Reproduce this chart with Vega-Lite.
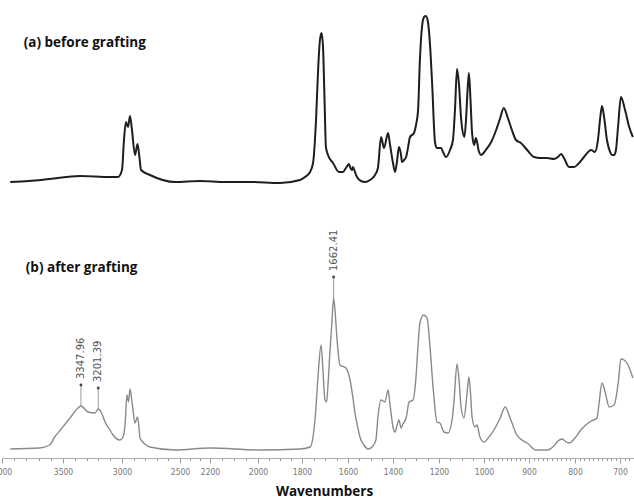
{
  "$schema": "https://vega.github.io/schema/vega-lite/v6.json",
  "width": 634,
  "height": 458,
  "autosize": {"type": "none"},
  "padding": {"left": 0, "top": 0, "right": 0, "bottom": 40},
  "background": "white",
  "config": {
    "view": {"stroke": null},
    "axisX": {
      "titleFont": "Open Sans",
      "titleFontSize": 13.5,
      "titleFontWeight": "bold",
      "titleColor": "#111",
      "titleX": 324,
      "titleY": 37,
      "titleBaseline": "alphabetic",
      "titleAlign": "center",
      "labelOverlap": false,
      "labelBound": false,
      "labelFlush": false,
      "labelFont": "Liberation Sans Narrow, DejaVu Sans Condensed, sans-serif",
      "labelFontSize": 8.5,
      "labelColor": "#777",
      "labelPadding": 4,
      "domainColor": "#aaa",
      "domainWidth": 1,
      "tickColor": "#999",
      "tickWidth": 1,
      "grid": false
    }
  },
  "datasets": {
    "a": [
      {"wn":3932,"val":276},{"wn":3780,"val":277},{"wn":3610,"val":279},{"wn":3356,"val":282},{"wn":3102,"val":281},{"wn":3034,"val":281},{"wn":3000,"val":288},{"wn":2983,"val":318},{"wn":2966,"val":336},{"wn":2948,"val":331},{"wn":2931,"val":342},{"wn":2914,"val":328},{"wn":2888,"val":303},{"wn":2866,"val":314},{"wn":2849,"val":300},{"wn":2836,"val":288},{"wn":2759,"val":283},{"wn":2543,"val":276},{"wn":2300,"val":277},{"wn":2137,"val":276},{"wn":2033,"val":276},{"wn":1900,"val":275},{"wn":1809,"val":278},{"wn":1787,"val":281},{"wn":1765,"val":286},{"wn":1752,"val":295},{"wn":1739,"val":338},{"wn":1730,"val":388},{"wn":1722,"val":418},{"wn":1715,"val":425},{"wn":1709,"val":413},{"wn":1702,"val":358},{"wn":1696,"val":311},{"wn":1687,"val":303},{"wn":1665,"val":295},{"wn":1639,"val":286},{"wn":1622,"val":286},{"wn":1609,"val":290},{"wn":1600,"val":293},{"wn":1596,"val":294},{"wn":1589,"val":290},{"wn":1582,"val":288},{"wn":1578,"val":291},{"wn":1569,"val":286},{"wn":1560,"val":281},{"wn":1542,"val":277},{"wn":1524,"val":276},{"wn":1502,"val":278},{"wn":1480,"val":283},{"wn":1467,"val":290},{"wn":1453,"val":321},{"wn":1440,"val":310},{"wn":1422,"val":325},{"wn":1413,"val":313},{"wn":1400,"val":295},{"wn":1391,"val":286},{"wn":1383,"val":296},{"wn":1374,"val":311},{"wn":1365,"val":303},{"wn":1361,"val":296},{"wn":1352,"val":298},{"wn":1343,"val":301},{"wn":1335,"val":310},{"wn":1326,"val":321},{"wn":1309,"val":325},{"wn":1300,"val":333},{"wn":1291,"val":348},{"wn":1283,"val":398},{"wn":1274,"val":431},{"wn":1265,"val":441},{"wn":1257,"val":442},{"wn":1248,"val":436},{"wn":1239,"val":413},{"wn":1230,"val":375},{"wn":1217,"val":315},{"wn":1209,"val":310},{"wn":1191,"val":310},{"wn":1182,"val":306},{"wn":1169,"val":301},{"wn":1151,"val":308},{"wn":1138,"val":318},{"wn":1129,"val":348},{"wn":1120,"val":389},{"wn":1111,"val":373},{"wn":1102,"val":340},{"wn":1098,"val":331},{"wn":1087,"val":321},{"wn":1080,"val":338},{"wn":1073,"val":368},{"wn":1067,"val":385},{"wn":1060,"val":358},{"wn":1053,"val":325},{"wn":1044,"val":313},{"wn":1036,"val":320},{"wn":1022,"val":306},{"wn":1013,"val":303},{"wn":996,"val":308},{"wn":984,"val":316},{"wn":973,"val":328},{"wn":964,"val":340},{"wn":956,"val":350},{"wn":947,"val":340},{"wn":938,"val":328},{"wn":929,"val":318},{"wn":918,"val":315},{"wn":904,"val":308},{"wn":889,"val":301},{"wn":876,"val":300},{"wn":861,"val":300},{"wn":846,"val":299},{"wn":837,"val":301},{"wn":830,"val":304},{"wn":824,"val":300},{"wn":813,"val":291},{"wn":802,"val":291},{"wn":793,"val":294},{"wn":780,"val":301},{"wn":764,"val":308},{"wn":756,"val":306},{"wn":749,"val":318},{"wn":744,"val":340},{"wn":740,"val":352},{"wn":736,"val":343},{"wn":729,"val":318},{"wn":722,"val":306},{"wn":718,"val":303},{"wn":713,"val":303},{"wn":709,"val":308},{"wn":704,"val":333},{"wn":698,"val":361},{"wn":689,"val":348},{"wn":680,"val":331},{"wn":672,"val":321}
    ],
    "b": [
      {"wn":3932,"val":9},{"wn":3695,"val":10},{"wn":3610,"val":13},{"wn":3568,"val":21},{"wn":3508,"val":30},{"wn":3441,"val":40},{"wn":3373,"val":50},{"wn":3347.96,"val":52},{"wn":3288,"val":46},{"wn":3229,"val":45},{"wn":3201.39,"val":49},{"wn":3169,"val":44},{"wn":3144,"val":36},{"wn":3102,"val":28},{"wn":3076,"val":23},{"wn":3017,"val":18},{"wn":2991,"val":21},{"wn":2974,"val":33},{"wn":2957,"val":63},{"wn":2944,"val":56},{"wn":2931,"val":69},{"wn":2918,"val":60},{"wn":2905,"val":48},{"wn":2888,"val":35},{"wn":2866,"val":41},{"wn":2853,"val":30},{"wn":2845,"val":20},{"wn":2802,"val":14},{"wn":2759,"val":11},{"wn":2543,"val":8},{"wn":2200,"val":10},{"wn":1991,"val":8},{"wn":1809,"val":9},{"wn":1765,"val":11},{"wn":1752,"val":21},{"wn":1739,"val":51},{"wn":1730,"val":83},{"wn":1717,"val":113},{"wn":1709,"val":88},{"wn":1700,"val":58},{"wn":1693,"val":56},{"wn":1687,"val":73},{"wn":1678,"val":108},{"wn":1670,"val":136},{"wn":1662.41,"val":160},{"wn":1656,"val":146},{"wn":1650,"val":126},{"wn":1643,"val":106},{"wn":1635,"val":93},{"wn":1617,"val":91},{"wn":1609,"val":90},{"wn":1600,"val":86},{"wn":1591,"val":78},{"wn":1578,"val":60},{"wn":1569,"val":45},{"wn":1556,"val":30},{"wn":1547,"val":21},{"wn":1529,"val":13},{"wn":1511,"val":9},{"wn":1493,"val":11},{"wn":1476,"val":18},{"wn":1467,"val":41},{"wn":1453,"val":58},{"wn":1436,"val":56},{"wn":1422,"val":68},{"wn":1413,"val":53},{"wn":1400,"val":31},{"wn":1391,"val":26},{"wn":1383,"val":32},{"wn":1374,"val":38},{"wn":1365,"val":30},{"wn":1357,"val":34},{"wn":1343,"val":40},{"wn":1330,"val":56},{"wn":1313,"val":58},{"wn":1300,"val":81},{"wn":1291,"val":113},{"wn":1283,"val":135},{"wn":1267,"val":143},{"wn":1252,"val":140},{"wn":1239,"val":111},{"wn":1230,"val":83},{"wn":1222,"val":61},{"wn":1209,"val":36},{"wn":1196,"val":35},{"wn":1178,"val":26},{"wn":1160,"val":25},{"wn":1142,"val":38},{"wn":1133,"val":58},{"wn":1120,"val":94},{"wn":1111,"val":78},{"wn":1102,"val":51},{"wn":1089,"val":40},{"wn":1076,"val":63},{"wn":1067,"val":81},{"wn":1058,"val":58},{"wn":1053,"val":41},{"wn":1040,"val":31},{"wn":1031,"val":33},{"wn":1018,"val":21},{"wn":1000,"val":16},{"wn":989,"val":21},{"wn":978,"val":28},{"wn":964,"val":40},{"wn":953,"val":51},{"wn":942,"val":40},{"wn":927,"val":23},{"wn":916,"val":18},{"wn":904,"val":15},{"wn":885,"val":8},{"wn":861,"val":8},{"wn":846,"val":12},{"wn":837,"val":17},{"wn":828,"val":19},{"wn":822,"val":17},{"wn":813,"val":15},{"wn":800,"val":20},{"wn":787,"val":28},{"wn":776,"val":33},{"wn":764,"val":37},{"wn":751,"val":40},{"wn":747,"val":53},{"wn":740,"val":75},{"wn":733,"val":66},{"wn":724,"val":51},{"wn":713,"val":53},{"wn":704,"val":75},{"wn":698,"val":99},{"wn":691,"val":98},{"wn":685,"val":95},{"wn":678,"val":88},{"wn":672,"val":80}
    ],
    "peaks": [
      {"wn":3347.96,"val":52,"label":"3347.96"},
      {"wn":3201.39,"val":49,"label":"3201.39"},
      {"wn":1662.41,"val":160,"label":"1662.41"}
    ],
    "panels": [
      {"label": "(a) before grafting", "series": "a"},
      {"label": "(b) after grafting", "series": "b"}
    ]
  },
  "layer": [
    {
      "encoding": {
        "x": {
          "field": "wn",
          "type": "quantitative",
          "scale": {
            "domain": [4000,3500,3000,2500,2200,2000,1800,1600,1400,1200,1000,900,800,700,650],
            "range": [2,63,122,180,210,258,302,348,393,439,484,529,575,620,643],
            "nice": false,
            "zero": false
          },
          "axis": {
            "title": "Wavenumbers",
            "values": [4000,3900,3800,3700,3600,3500,3400,3300,3200,3100,3000,2900,2800,2700,2600,2500,2400,2300,2200,2150,2100,2050,2000,1950,1900,1850,1800,1750,1700,1650,1600,1550,1500,1450,1400,1350,1300,1250,1200,1150,1100,1050,1000,990,980,970,960,950,940,930,920,910,900,890,880,870,860,850,840,830,820,810,800,790,780,770,760,750,740,730,720,710,700,690,680],
            "labelExpr": "indexof([4000,3500,3000,2500,2200,2000,1800,1600,1400,1200,1000,900,800,700], datum.value) >= 0 ? '' + datum.value : ''",
            "tickSize": {"condition": {"test": "indexof([4000,3500,3000,2500,2200,2000,1800,1600,1400,1200,1000,900,800,700], datum.value) >= 0", "value": 5}, "value": 2.5}
          }
        },
        "y": {
          "field": "val",
          "type": "quantitative",
          "scale": {"domain": [0, 458], "nice": false, "zero": false},
          "axis": null
        }
      },
      "layer": [
        {
          "data": {"name": "a"},
          "mark": {"type": "line", "color": "#1e1e1e", "strokeWidth": 2, "interpolate": "monotone"}
        },
        {
          "data": {"name": "b"},
          "mark": {"type": "line", "color": "#8a8a8a", "strokeWidth": 1.4, "interpolate": "monotone"}
        },
        {
          "data": {"name": "peaks"},
          "mark": {"type": "rule", "color": "#999", "strokeWidth": 1, "y2Offset": -20},
          "encoding": {"y2": {"field": "val"}}
        },
        {
          "data": {"name": "peaks"},
          "mark": {"type": "point", "filled": true, "size": 8, "color": "#444", "opacity": 1, "yOffset": -21}
        },
        {
          "data": {"name": "peaks"},
          "mark": {"type": "text", "angle": 270, "align": "left", "baseline": "middle", "yOffset": -27, "font": "DejaVu Sans", "fontSize": 10, "color": "#555"},
          "encoding": {"text": {"field": "label"}}
        }
      ]
    },
    {
      "data": {"name": "panels"},
      "transform": [{"filter": "datum.series === 'a'"}],
      "mark": {"type": "text", "align": "left", "baseline": "alphabetic", "font": "Open Sans", "fontSize": 13.5, "fontWeight": "bold", "color": "#111"},
      "encoding": {
        "x": {
          "datum": 3822,
          "type": "quantitative",
          "axis": {
            "title": "Wavenumbers",
            "values": [4000,3900,3800,3700,3600,3500,3400,3300,3200,3100,3000,2900,2800,2700,2600,2500,2400,2300,2200,2150,2100,2050,2000,1950,1900,1850,1800,1750,1700,1650,1600,1550,1500,1450,1400,1350,1300,1250,1200,1150,1100,1050,1000,990,980,970,960,950,940,930,920,910,900,890,880,870,860,850,840,830,820,810,800,790,780,770,760,750,740,730,720,710,700,690,680],
            "labelExpr": "indexof([4000,3500,3000,2500,2200,2000,1800,1600,1400,1200,1000,900,800,700], datum.value) >= 0 ? '' + datum.value : ''",
            "tickSize": {"condition": {"test": "indexof([4000,3500,3000,2500,2200,2000,1800,1600,1400,1200,1000,900,800,700], datum.value) >= 0", "value": 5}, "value": 2.5}
          }
        },
        "y": {"datum": 411, "type": "quantitative", "axis": null},
        "text": {"field": "label"}
      }
    },
    {
      "data": {"name": "panels"},
      "transform": [{"filter": "datum.series === 'b'"}],
      "mark": {"type": "text", "align": "left", "baseline": "alphabetic", "font": "Open Sans", "fontSize": 13.5, "fontWeight": "bold", "color": "#111"},
      "encoding": {
        "x": {
          "datum": 3805,
          "type": "quantitative",
          "axis": {
            "title": "Wavenumbers",
            "values": [4000,3900,3800,3700,3600,3500,3400,3300,3200,3100,3000,2900,2800,2700,2600,2500,2400,2300,2200,2150,2100,2050,2000,1950,1900,1850,1800,1750,1700,1650,1600,1550,1500,1450,1400,1350,1300,1250,1200,1150,1100,1050,1000,990,980,970,960,950,940,930,920,910,900,890,880,870,860,850,840,830,820,810,800,790,780,770,760,750,740,730,720,710,700,690,680],
            "labelExpr": "indexof([4000,3500,3000,2500,2200,2000,1800,1600,1400,1200,1000,900,800,700], datum.value) >= 0 ? '' + datum.value : ''",
            "tickSize": {"condition": {"test": "indexof([4000,3500,3000,2500,2200,2000,1800,1600,1400,1200,1000,900,800,700], datum.value) >= 0", "value": 5}, "value": 2.5}
          }
        },
        "y": {"datum": 186, "type": "quantitative", "axis": null},
        "text": {"field": "label"}
      }
    }
  ]
}
